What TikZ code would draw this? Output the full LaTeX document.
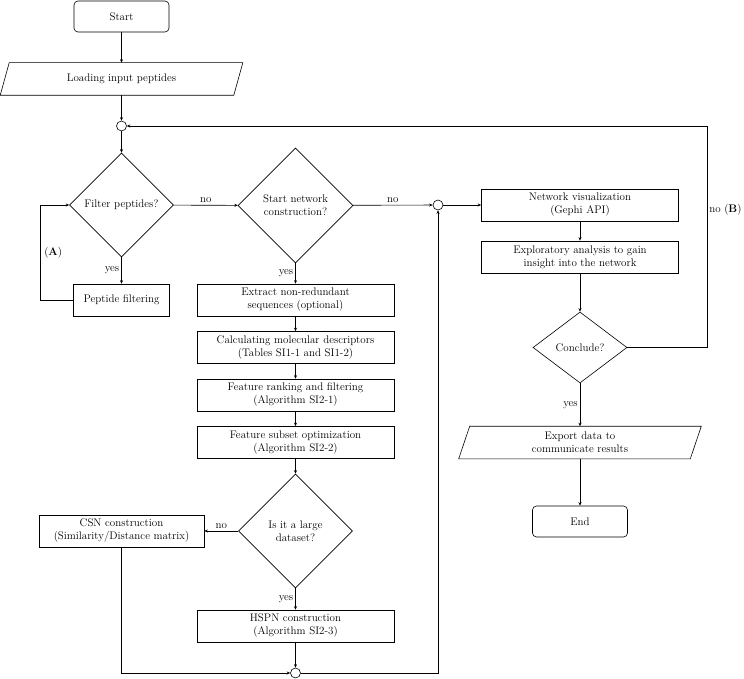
\documentclass[tikz,border=0pt]{standalone}
\usetikzlibrary{shapes.geometric,arrows.meta,calc}
\begin{document}
\begin{tikzpicture}[x=1pt,y=-1pt,
  line width=0.6pt,
  every node/.style={font=\fontsize{11}{13}\selectfont},
  arr/.style={-{Stealth[length=3.5pt,width=3pt]}},
  term/.style={draw,rounded corners=4pt,minimum width=95pt,minimum height=31pt,inner sep=0pt},
  box/.style={draw,minimum width=197pt,minimum height=32pt,inner sep=0pt,align=center},
  iobox/.style={minimum height=32pt,inner sep=0pt,align=center},
  dec/.style={draw,diamond,inner sep=0pt,align=center},
  junc/.style={draw,circle,minimum size=10pt,inner sep=0pt},
  lab/.style={inner sep=2pt}
]
\useasboundingbox (0,0) rectangle (744,679);

% left column
\node[term] (start) at (121.5,16.5) {Start};
\node[iobox,minimum width=233pt] (load) at (121.5,79) {Loading input peptides};
\draw ($(load.north west)+(4.5,0)$) -- ($(load.north east)+(4.5,0)$) -- ($(load.south east)+(-4.5,0)$) -- ($(load.south west)+(-4.5,0)$) -- cycle;
\node[junc] (j1) at (121.5,126) {};
\node[dec,minimum width=104pt,minimum height=104pt] (filt) at (121.5,205) {Filter peptides?};
\node[box,minimum width=96pt] (pf) at (121.5,300) {Peptide filtering};

% middle column
\node[dec,minimum width=115pt,minimum height=115pt] (snc) at (295.5,205.5) {Start network\\construction?};
\node[box] (extract) at (295.5,300) {Extract non-redundant\\sequences (optional)};
\node[box] (calc) at (295.5,347.5) {Calculating molecular descriptors\\(Tables SI1-1 and SI1-2)};
\node[box] (rank) at (295.5,395) {Feature ranking and filtering\\(Algorithm SI2-1)};
\node[box] (subset) at (295.5,442.5) {Feature subset optimization\\(Algorithm SI2-2)};
\node[dec,minimum width=114pt,minimum height=114pt] (large) at (295.5,531) {Is it a large\\dataset?};
\node[box,minimum width=165pt] (csn) at (121.5,531) {CSN construction\\(Similarity/Distance matrix)};
\node[box] (hspn) at (295.5,626) {HSPN construction\\(Algorithm SI2-3)};
\node[junc] (j3) at (295.5,673) {};

% right column
\node[junc] (j2) at (438,205) {};
\node[box] (netvis) at (580,205) {Network visualization\\(Gephi API)};
\node[box] (explo) at (580,257) {Exploratory analysis to gain\\insight into the network};
\node[dec,minimum width=94pt,minimum height=71pt] (concl) at (580,347.5) {Conclude?};
\node[iobox,minimum width=231pt] (export) at (580,442.5) {Export data to\\communicate results};
\draw ($(export.north west)+(5.5,0)$) -- ($(export.north east)+(5.5,0)$) -- ($(export.south east)+(-5.5,0)$) -- ($(export.south west)+(-5.5,0)$) -- cycle;
\node[term] (end) at (580,521.5) {End};

\coordinate (lx) at (40,0);
\coordinate (rx) at (707,0);

% connectors
\draw[arr] (start) -- (load);
\draw[arr] (load) -- (j1);
\draw[arr] (j1) -- (filt);
\draw[arr] (filt) -- node[lab,left] {yes} (pf);
\draw[arr] (pf.west) -- (pf.west -| lx) |- (filt.west);
\node[lab,anchor=west] (labA) at (42,253) {(\textbf{A})};
\draw[arr] (filt) -- node[lab,above] {no} (snc);
\draw[arr] (snc) -- node[lab,above] {no} (j2);
\draw[arr] (snc) -- node[lab,left] {yes} (extract);
\draw[arr] (extract) -- (calc);
\draw[arr] (calc) -- (rank);
\draw[arr] (rank) -- (subset);
\draw[arr] (subset) -- (large);
\draw[arr] (large) -- node[lab,above] {no} (csn);
\draw[arr] (large) -- node[lab,left] {yes} (hspn);
\draw[arr] (hspn) -- (j3);
\draw[arr] (csn.south) |- (j3.west);
\draw[arr] (j3.east) -| (j2.south);
\draw[arr] (j2) -- (netvis);
\draw[arr] (netvis) -- (explo);
\draw[arr] (explo) -- (concl);
\draw[arr] (concl) -- node[lab,left] {yes} (export);
\draw[arr] (export) -- (end);
\draw[arr] (concl.east) -- (concl.east -| rx) |- (j1.east);
\node[lab,anchor=west] (labB) at (707,210) {no (\textbf{B})};
\end{tikzpicture}
\end{document}
